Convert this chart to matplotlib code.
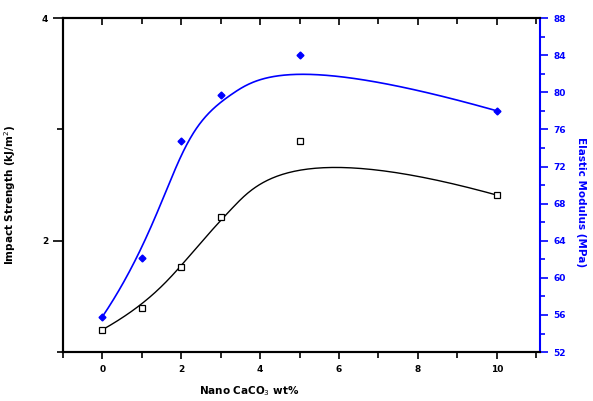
import numpy as np
import matplotlib
matplotlib.use("Agg")
import matplotlib.pyplot as plt
from matplotlib.ticker import MultipleLocator

# data
caco3 = [0, 1, 2, 3, 5, 10]
impact = [1.20, 1.40, 1.76, 2.21, 2.90, 2.41]      # kJ/m2, left axis
modulus = [55.8, 62.1, 74.7, 79.7, 84.0, 78.0]     # MPa, right axis


def bspline(xs, ys, k=3, n=300):
    # clamped uniform B-spline with the data points as control points
    P = np.column_stack([xs, ys]).astype(float)
    m = len(P)
    knots = np.concatenate([np.zeros(k), np.linspace(0, 1, m - k + 1), np.ones(k)])
    out = []
    for t in np.linspace(0, 1, n):
        N = np.array([1.0 if (knots[i] <= t < knots[i + 1] or
                              (t == 1 and knots[i] < t <= knots[i + 1])) else 0.0
                      for i in range(len(knots) - 1)])
        for d in range(1, k + 1):
            Nn = np.zeros(len(knots) - 1 - d)
            for i in range(len(Nn)):
                a = b = 0.0
                if knots[i + d] != knots[i]:
                    a = (t - knots[i]) / (knots[i + d] - knots[i]) * N[i]
                if knots[i + d + 1] != knots[i + 1]:
                    b = (knots[i + d + 1] - t) / (knots[i + d + 1] - knots[i + 1]) * N[i + 1]
                Nn[i] = a + b
            N = Nn
        out.append(N[:m] @ P)
    out = np.array(out)
    return out[:, 0], out[:, 1]


fig = plt.figure(figsize=(5.93, 4.01), dpi=100)
ax = fig.add_axes([0.106, 0.122, 0.805, 0.833])
ax2 = ax.twinx()

bx, by = bspline(caco3, impact)
ax.plot(bx, by, color="black", lw=1.0)
ax.plot(caco3, impact, ls="none", marker="s", ms=4, mfc="white", mec="black", mew=0.9)

mx, my = bspline(caco3, modulus)
ax2.plot(mx, my, color="blue", lw=1.2)
ax2.plot(caco3, modulus, ls="none", marker="D", ms=3.5, color="blue")

ax.set_xlim(-1, 11.1)
ax.set_ylim(1, 4)
ax2.set_ylim(52, 88)

ax.xaxis.set_major_locator(MultipleLocator(2))
ax.xaxis.set_minor_locator(MultipleLocator(1))
ax.yaxis.set_major_locator(MultipleLocator(2))
ax.yaxis.set_minor_locator(MultipleLocator(1))
ax2.yaxis.set_major_locator(MultipleLocator(4))
ax2.yaxis.set_minor_locator(MultipleLocator(2))

# ticks inside on top, outside on the bottom
ax.tick_params(axis="x", which="both", direction="in", top=True, bottom=True,
               labelsize=6.5, pad=9, width=1.2)
ax.tick_params(axis="x", which="major", length=5)
ax.tick_params(axis="x", which="minor", length=4)
for t in ax.xaxis.get_major_ticks() + ax.xaxis.get_minor_ticks():
    t.tick1line.set_marker(matplotlib.lines.TICKDOWN)
ax.tick_params(axis="y", which="major", length=7, width=1.2, labelsize=6.5)
ax.tick_params(axis="y", which="minor", length=4, width=1.2)

ax2.tick_params(axis="y", which="major", length=6, width=1.2, colors="blue", labelsize=6.5)
ax2.tick_params(axis="y", which="minor", length=3.5, width=1.2, colors="blue")

for lab in ax.get_xticklabels() + ax.get_yticklabels() + ax2.get_yticklabels():
    lab.set_fontweight("bold")

for s in ["left", "bottom", "top"]:
    ax.spines[s].set_linewidth(1.5)
    ax2.spines[s].set_linewidth(1.5)
ax2.spines["right"].set_color("blue")
ax2.spines["right"].set_linewidth(1.5)
ax.spines["right"].set_visible(False)

ax.set_xlabel("Nano CaCO$_3$ wt%", fontsize=7.5, fontweight="bold")
ax.xaxis.set_label_coords(0.39, -0.095)
ax.set_ylabel("Impact Strength (kJ/m$^2$)", fontsize=7.5, fontweight="bold")
ax.yaxis.set_label_coords(-0.095, 0.47)
ax2.set_ylabel("Elastic Modulus (MPa)", fontsize=7.5, fontweight="bold", color="blue",
               rotation=270)
ax2.yaxis.set_label_coords(1.095, 0.45)

fig.savefig("out.png", dpi=100)
